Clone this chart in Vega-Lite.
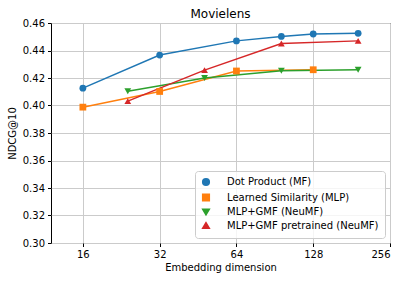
{
  "$schema": "https://vega.github.io/schema/vega-lite/v6.json",
  "width": 339,
  "height": 220,
  "autosize": {"type": "none"},
  "padding": {"left": 51, "top": 23, "right": 17, "bottom": 38},
  "background": "white",
  "title": {"text": "Movielens", "font": "DejaVu Sans", "fontSize": 12, "fontWeight": "normal", "color": "#000000", "anchor": "middle", "frame": "group", "offset": -3},
  "config": {
    "view": {"stroke": "#000000", "strokeWidth": 1},
    "font": "DejaVu Sans",
    "axis": {"labelFont": "DejaVu Sans", "titleFont": "DejaVu Sans", "labelFontSize": 10, "titleFontSize": 10, "titleFontWeight": "normal", "labelColor": "#000000", "titleColor": "#000000", "tickColor": "#000000", "tickSize": 3.5, "labelPadding": 3, "domain": false, "gridColor": "#cbcbcb", "gridWidth": 1},
    "legend": {
      "title": null, "orient": "bottom-right", "offset": 5, "padding": 6,
      "labelFont": "DejaVu Sans", "labelFontSize": 10, "labelColor": "#000000",
      "symbolSize": 44, "symbolStrokeWidth": 1.5, "labelOffset": 16, "rowPadding": 1.5,
      "fillColor": "rgba(255,255,255,0.8)", "strokeColor": "#cccccc", "cornerRadius": 3,
      "symbolOpacity": 1
    }
  },
  "data": {
    "values": [
      {"series": "Dot Product (MF)", "dim": 16, "ndcg": 0.4126},
      {"series": "Dot Product (MF)", "dim": 32, "ndcg": 0.4367},
      {"series": "Dot Product (MF)", "dim": 64, "ndcg": 0.447},
      {"series": "Dot Product (MF)", "dim": 96, "ndcg": 0.4502},
      {"series": "Dot Product (MF)", "dim": 128, "ndcg": 0.452},
      {"series": "Dot Product (MF)", "dim": 192, "ndcg": 0.4525},
      {"series": "Learned Similarity (MLP)", "dim": 16, "ndcg": 0.3988},
      {"series": "Learned Similarity (MLP)", "dim": 32, "ndcg": 0.4102},
      {"series": "Learned Similarity (MLP)", "dim": 64, "ndcg": 0.4251},
      {"series": "Learned Similarity (MLP)", "dim": 128, "ndcg": 0.426},
      {"series": "MLP+GMF (NeuMF)", "dim": 24, "ndcg": 0.4104},
      {"series": "MLP+GMF (NeuMF)", "dim": 48, "ndcg": 0.42},
      {"series": "MLP+GMF (NeuMF)", "dim": 96, "ndcg": 0.4253},
      {"series": "MLP+GMF (NeuMF)", "dim": 192, "ndcg": 0.426},
      {"series": "MLP+GMF pretrained (NeuMF)", "dim": 24, "ndcg": 0.4032},
      {"series": "MLP+GMF pretrained (NeuMF)", "dim": 48, "ndcg": 0.4257},
      {"series": "MLP+GMF pretrained (NeuMF)", "dim": 96, "ndcg": 0.4451},
      {"series": "MLP+GMF pretrained (NeuMF)", "dim": 192, "ndcg": 0.447}
    ]
  },
  "encoding": {
    "x": {"field": "dim", "type": "quantitative", "title": "Embedding dimension",
      "scale": {"type": "log", "base": 2, "domain": [12, 256], "nice": false, "zero": false},
      "axis": {"values": [16, 32, 64, 128, 256], "format": "d", "grid": true, "titlePadding": 3}},
    "y": {"field": "ndcg", "type": "quantitative", "title": "NDCG@10",
      "scale": {"domain": [0.3, 0.46], "nice": false, "zero": false},
      "axis": {"values": [0.3, 0.32, 0.34, 0.36, 0.38, 0.4, 0.42, 0.44, 0.46], "format": ".2f", "grid": true, "titlePadding": 5}},
    "color": {"field": "series", "type": "nominal",
      "scale": {"domain": ["Dot Product (MF)", "Learned Similarity (MLP)", "MLP+GMF (NeuMF)", "MLP+GMF pretrained (NeuMF)"], "range": ["#1f77b4", "#ff7f0e", "#2ca02c", "#d62728"]}
    }
  },
  "layer": [
    {"mark": {"type": "line", "strokeWidth": 1.5}},
    {"mark": {"type": "point", "filled": true, "opacity": 1, "size": 46},
     "encoding": {"shape": {"field": "series", "type": "nominal",
       "scale": {"domain": ["Dot Product (MF)", "Learned Similarity (MLP)", "MLP+GMF (NeuMF)", "MLP+GMF pretrained (NeuMF)"], "range": ["circle", "square", "triangle-down", "triangle-up"]}}}}
  ]
}
